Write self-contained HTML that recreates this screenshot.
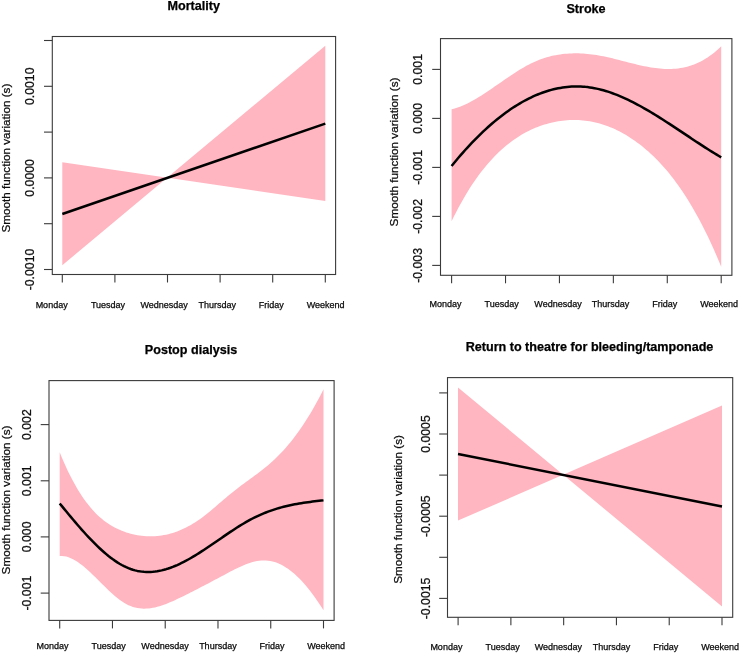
<!DOCTYPE html>
<html><head><meta charset="utf-8"><style>
html,body{margin:0;padding:0;background:#fff;}
svg{display:block;}
text{font-family:"Liberation Sans",sans-serif;fill:#000;stroke:#000;stroke-width:0.25px;}
svg{will-change:transform;}
.t12{font-size:12.3px;fill:#111;}
.ylab{font-size:11.7px;fill:#111;}
.t9{font-size:9px;fill:#111;}
.title{font-size:12.6px;font-weight:bold;}
</style></head><body>
<svg width="740" height="653" viewBox="0 0 740 653">
<rect width="740" height="653" fill="#fff"/>
<polygon points="62.30,162.30 325.30,201.00 325.30,45.70 62.30,265.20" fill="#FFB6C1" stroke="none"/>
<polyline points="62.30,214.00 325.30,123.60" fill="none" stroke="#000" stroke-width="2.5" stroke-linejoin="round" stroke-linecap="butt"/>
<rect x="52.3" y="36.5" width="283.3" height="238.0" fill="none" stroke="#3a3a3a" stroke-width="1.1"/>
<line x1="62.30" y1="274.5" x2="62.30" y2="282.5" stroke="#3a3a3a" stroke-width="1.1"/>
<line x1="114.90" y1="274.5" x2="114.90" y2="282.5" stroke="#3a3a3a" stroke-width="1.1"/>
<line x1="167.50" y1="274.5" x2="167.50" y2="282.5" stroke="#3a3a3a" stroke-width="1.1"/>
<line x1="220.10" y1="274.5" x2="220.10" y2="282.5" stroke="#3a3a3a" stroke-width="1.1"/>
<line x1="272.70" y1="274.5" x2="272.70" y2="282.5" stroke="#3a3a3a" stroke-width="1.1"/>
<line x1="325.30" y1="274.5" x2="325.30" y2="282.5" stroke="#3a3a3a" stroke-width="1.1"/>
<line x1="44.0" y1="40.5" x2="52.3" y2="40.5" stroke="#3a3a3a" stroke-width="1.1"/>
<line x1="44.0" y1="86.3" x2="52.3" y2="86.3" stroke="#3a3a3a" stroke-width="1.1"/>
<line x1="44.0" y1="132.1" x2="52.3" y2="132.1" stroke="#3a3a3a" stroke-width="1.1"/>
<line x1="44.0" y1="177.9" x2="52.3" y2="177.9" stroke="#3a3a3a" stroke-width="1.1"/>
<line x1="44.0" y1="223.7" x2="52.3" y2="223.7" stroke="#3a3a3a" stroke-width="1.1"/>
<line x1="44.0" y1="269.5" x2="52.3" y2="269.5" stroke="#3a3a3a" stroke-width="1.1"/>
<text transform="translate(34.1,86.3) rotate(-90)" text-anchor="middle" class="t12">0.0010</text>
<text transform="translate(34.1,177.9) rotate(-90)" text-anchor="middle" class="t12">0.0000</text>
<text transform="translate(34.1,269.5) rotate(-90)" text-anchor="middle" class="t12">-0.0010</text>
<text transform="translate(10,158.1) rotate(-90)" text-anchor="middle" class="ylab">Smooth function variation (s)</text>
<text x="193.7" y="10" text-anchor="middle" class="title">Mortality</text>
<text x="51.65" y="308.2" text-anchor="middle" class="t9">Monday</text>
<text x="108" y="308.2" text-anchor="middle" class="t9">Tuesday</text>
<text x="164.2" y="308.2" text-anchor="middle" class="t9">Wednesday</text>
<text x="217.2" y="308.2" text-anchor="middle" class="t9">Thursday</text>
<text x="271.2" y="308.2" text-anchor="middle" class="t9">Friday</text>
<text x="325.7" y="308.2" text-anchor="middle" class="t9">Weekend</text>
<polygon points="451.60,109.26 453.87,108.69 456.13,108.02 458.40,107.26 460.66,106.42 462.93,105.49 465.19,104.48 467.46,103.41 469.72,102.26 471.99,101.06 474.26,99.79 476.52,98.48 478.79,97.11 481.05,95.70 483.32,94.26 485.58,92.78 487.85,91.27 490.11,89.74 492.38,88.19 494.65,86.62 496.91,85.05 499.18,83.47 501.44,81.89 503.71,80.31 505.97,78.74 508.24,77.19 510.50,75.66 512.77,74.15 515.04,72.67 517.30,71.23 519.57,69.82 521.83,68.45 524.10,67.14 526.36,65.87 528.63,64.67 530.89,63.52 533.16,62.44 535.43,61.43 537.69,60.49 539.96,59.61 542.22,58.79 544.49,58.03 546.75,57.34 549.02,56.70 551.28,56.12 553.55,55.61 555.82,55.14 558.08,54.73 560.35,54.38 562.61,54.08 564.88,53.83 567.14,53.63 569.41,53.48 571.67,53.38 573.94,53.32 576.21,53.31 578.47,53.34 580.74,53.42 583.00,53.54 585.27,53.70 587.53,53.90 589.80,54.14 592.06,54.42 594.33,54.73 596.59,55.08 598.86,55.47 601.13,55.88 603.39,56.33 605.66,56.80 607.92,57.30 610.19,57.82 612.45,58.36 614.72,58.92 616.98,59.48 619.25,60.06 621.52,60.65 623.78,61.23 626.05,61.82 628.31,62.41 630.58,62.99 632.84,63.56 635.11,64.11 637.37,64.66 639.64,65.18 641.91,65.69 644.17,66.17 646.44,66.62 648.70,67.04 650.97,67.43 653.23,67.79 655.50,68.10 657.76,68.37 660.03,68.60 662.30,68.78 664.56,68.90 666.83,68.97 669.09,68.98 671.36,68.94 673.62,68.83 675.89,68.65 678.15,68.40 680.42,68.08 682.69,67.68 684.95,67.20 687.22,66.64 689.48,66.00 691.75,65.26 694.01,64.44 696.28,63.52 698.54,62.50 700.81,61.38 703.08,60.16 705.34,58.83 707.61,57.39 709.87,55.84 712.14,54.18 714.40,52.39 716.67,50.48 718.93,48.45 721.20,46.29 721.20,266.63 718.93,261.21 716.67,255.92 714.40,250.76 712.14,245.75 709.87,240.86 707.61,236.10 705.34,231.48 703.08,226.98 700.81,222.60 698.54,218.35 696.28,214.22 694.01,210.20 691.75,206.31 689.48,202.52 687.22,198.86 684.95,195.30 682.69,191.85 680.42,188.51 678.15,185.28 675.89,182.15 673.62,179.12 671.36,176.19 669.09,173.36 666.83,170.62 664.56,167.97 662.30,165.42 660.03,162.95 657.76,160.57 655.50,158.27 653.23,156.06 650.97,153.92 648.70,151.86 646.44,149.88 644.17,147.96 641.91,146.12 639.64,144.35 637.37,142.64 635.11,141.00 632.84,139.42 630.58,137.91 628.31,136.47 626.05,135.08 623.78,133.77 621.52,132.51 619.25,131.32 616.98,130.19 614.72,129.12 612.45,128.12 610.19,127.17 607.92,126.29 605.66,125.47 603.39,124.70 601.13,124.00 598.86,123.35 596.59,122.76 594.33,122.23 592.06,121.76 589.80,121.34 587.53,120.99 585.27,120.68 583.00,120.44 580.74,120.24 578.47,120.11 576.21,120.03 573.94,120.00 571.67,120.03 569.41,120.12 567.14,120.25 564.88,120.44 562.61,120.69 560.35,120.99 558.08,121.34 555.82,121.74 553.55,122.20 551.28,122.71 549.02,123.27 546.75,123.89 544.49,124.56 542.22,125.28 539.96,126.07 537.69,126.91 535.43,127.82 533.16,128.78 530.89,129.81 528.63,130.91 526.36,132.07 524.10,133.31 521.83,134.61 519.57,135.98 517.30,137.43 515.04,138.95 512.77,140.54 510.50,142.21 508.24,143.96 505.97,145.80 503.71,147.71 501.44,149.71 499.18,151.81 496.91,153.99 494.65,156.27 492.38,158.65 490.11,161.13 487.85,163.71 485.58,166.39 483.32,169.19 481.05,172.09 478.79,175.11 476.52,178.24 474.26,181.50 471.99,184.87 469.72,188.37 467.46,192.00 465.19,195.76 462.93,199.64 460.66,203.67 458.40,207.83 456.13,212.13 453.87,216.58 451.60,221.17" fill="#FFB6C1" stroke="none"/>
<polyline points="451.60,165.96 453.87,163.19 456.13,160.46 458.40,157.79 460.66,155.15 462.93,152.57 465.19,150.03 467.46,147.54 469.72,145.09 471.99,142.69 474.26,140.34 476.52,138.04 478.79,135.79 481.05,133.58 483.32,131.42 485.58,129.31 487.85,127.25 490.11,125.24 492.38,123.28 494.65,121.36 496.91,119.49 499.18,117.68 501.44,115.91 503.71,114.19 505.97,112.53 508.24,110.91 510.50,109.34 512.77,107.83 515.04,106.36 517.30,104.94 519.57,103.58 521.83,102.26 524.10,101.00 526.36,99.79 528.63,98.63 530.89,97.52 533.16,96.47 535.43,95.46 537.69,94.51 539.96,93.61 542.22,92.76 544.49,91.97 546.75,91.23 549.02,90.54 551.28,89.90 553.55,89.32 555.82,88.79 558.08,88.32 560.35,87.90 562.61,87.53 564.88,87.22 567.14,86.96 569.41,86.76 571.67,86.61 573.94,86.51 576.21,86.47 578.47,86.49 580.74,86.56 583.00,86.69 585.27,86.87 587.53,87.11 589.80,87.40 592.06,87.76 594.33,88.16 596.59,88.62 598.86,89.13 601.13,89.70 603.39,90.31 605.66,90.97 607.92,91.68 610.19,92.43 612.45,93.23 614.72,94.07 616.98,94.95 619.25,95.87 621.52,96.84 623.78,97.83 626.05,98.87 628.31,99.94 630.58,101.05 632.84,102.18 635.11,103.35 637.37,104.55 639.64,105.77 641.91,107.02 644.17,108.30 646.44,109.60 648.70,110.93 650.97,112.27 653.23,113.64 655.50,115.03 657.76,116.43 660.03,117.85 662.30,119.28 664.56,120.73 666.83,122.19 669.09,123.66 671.36,125.14 673.62,126.63 675.89,128.12 678.15,129.63 680.42,131.13 682.69,132.64 684.95,134.15 687.22,135.66 689.48,137.16 691.75,138.67 694.01,140.17 696.28,141.67 698.54,143.16 700.81,144.64 703.08,146.11 705.34,147.58 707.61,149.03 709.87,150.46 712.14,151.89 714.40,153.29 716.67,154.68 718.93,156.05 721.20,157.40" fill="none" stroke="#000" stroke-width="2.5" stroke-linejoin="round" stroke-linecap="butt"/>
<rect x="440.5" y="38.6" width="291.4" height="236.70000000000002" fill="none" stroke="#3a3a3a" stroke-width="1.1"/>
<line x1="451.60" y1="275.3" x2="451.60" y2="283.3" stroke="#3a3a3a" stroke-width="1.1"/>
<line x1="505.52" y1="275.3" x2="505.52" y2="283.3" stroke="#3a3a3a" stroke-width="1.1"/>
<line x1="559.44" y1="275.3" x2="559.44" y2="283.3" stroke="#3a3a3a" stroke-width="1.1"/>
<line x1="613.36" y1="275.3" x2="613.36" y2="283.3" stroke="#3a3a3a" stroke-width="1.1"/>
<line x1="667.28" y1="275.3" x2="667.28" y2="283.3" stroke="#3a3a3a" stroke-width="1.1"/>
<line x1="721.20" y1="275.3" x2="721.20" y2="283.3" stroke="#3a3a3a" stroke-width="1.1"/>
<line x1="432.2" y1="69.4" x2="440.5" y2="69.4" stroke="#3a3a3a" stroke-width="1.1"/>
<line x1="432.2" y1="118.4" x2="440.5" y2="118.4" stroke="#3a3a3a" stroke-width="1.1"/>
<line x1="432.2" y1="167.4" x2="440.5" y2="167.4" stroke="#3a3a3a" stroke-width="1.1"/>
<line x1="432.2" y1="216.4" x2="440.5" y2="216.4" stroke="#3a3a3a" stroke-width="1.1"/>
<line x1="432.2" y1="265.4" x2="440.5" y2="265.4" stroke="#3a3a3a" stroke-width="1.1"/>
<text transform="translate(422,69.4) rotate(-90)" text-anchor="middle" class="t12">0.001</text>
<text transform="translate(422,118.4) rotate(-90)" text-anchor="middle" class="t12">0.000</text>
<text transform="translate(422,167.4) rotate(-90)" text-anchor="middle" class="t12">-0.001</text>
<text transform="translate(422,216.4) rotate(-90)" text-anchor="middle" class="t12">-0.002</text>
<text transform="translate(422,265.4) rotate(-90)" text-anchor="middle" class="t12">-0.003</text>
<text transform="translate(398,152) rotate(-90)" text-anchor="middle" class="ylab">Smooth function variation (s)</text>
<text x="586" y="12.5" text-anchor="middle" class="title">Stroke</text>
<text x="445.6" y="306.9" text-anchor="middle" class="t9">Monday</text>
<text x="501.6" y="306.9" text-anchor="middle" class="t9">Tuesday</text>
<text x="558" y="306.9" text-anchor="middle" class="t9">Wednesday</text>
<text x="610.6" y="306.9" text-anchor="middle" class="t9">Thursday</text>
<text x="664.8" y="306.9" text-anchor="middle" class="t9">Friday</text>
<text x="719.1" y="306.9" text-anchor="middle" class="t9">Weekend</text>
<polygon points="59.70,452.23 61.92,457.63 64.13,462.78 66.35,467.69 68.57,472.38 70.78,476.83 73.00,481.07 75.22,485.09 77.43,488.91 79.65,492.52 81.87,495.94 84.08,499.17 86.30,502.21 88.52,505.08 90.74,507.77 92.95,510.30 95.17,512.67 97.39,514.88 99.60,516.95 101.82,518.87 104.04,520.66 106.25,522.32 108.47,523.85 110.69,525.27 112.90,526.57 115.12,527.77 117.34,528.87 119.55,529.87 121.77,530.79 123.99,531.62 126.20,532.38 128.42,533.06 130.64,533.68 132.85,534.24 135.07,534.73 137.29,535.16 139.51,535.52 141.72,535.82 143.94,536.05 146.16,536.21 148.37,536.31 150.59,536.34 152.81,536.30 155.02,536.20 157.24,536.03 159.46,535.79 161.67,535.48 163.89,535.11 166.11,534.66 168.32,534.15 170.54,533.56 172.76,532.91 174.97,532.19 177.19,531.39 179.41,530.53 181.62,529.59 183.84,528.58 186.06,527.51 188.27,526.36 190.49,525.13 192.71,523.84 194.93,522.47 197.14,521.03 199.36,519.52 201.58,517.93 203.79,516.27 206.01,514.54 208.23,512.75 210.44,510.92 212.66,509.06 214.88,507.16 217.09,505.26 219.31,503.35 221.53,501.44 223.74,499.55 225.96,497.68 228.18,495.82 230.39,493.99 232.61,492.19 234.83,490.42 237.04,488.68 239.26,486.97 241.48,485.30 243.69,483.67 245.91,482.05 248.13,480.44 250.35,478.84 252.56,477.23 254.78,475.61 257.00,473.98 259.21,472.31 261.43,470.61 263.65,468.87 265.86,467.08 268.08,465.23 270.30,463.31 272.51,461.32 274.73,459.25 276.95,457.10 279.16,454.87 281.38,452.56 283.60,450.16 285.81,447.67 288.03,445.09 290.25,442.41 292.46,439.64 294.68,436.77 296.90,433.80 299.12,430.72 301.33,427.53 303.55,424.24 305.77,420.83 307.98,417.31 310.20,413.67 312.42,409.91 314.63,406.03 316.85,402.03 319.07,397.89 321.28,393.63 323.50,389.23 323.50,610.37 321.28,606.87 319.07,603.48 316.85,600.19 314.63,597.03 312.42,593.98 310.20,591.05 307.98,588.24 305.77,585.57 303.55,583.02 301.33,580.60 299.12,578.31 296.90,576.15 294.68,574.12 292.46,572.23 290.25,570.48 288.03,568.86 285.81,567.38 283.60,566.04 281.38,564.84 279.16,563.78 276.95,562.86 274.73,562.09 272.51,561.46 270.30,560.98 268.08,560.65 265.86,560.47 263.65,560.43 261.43,560.52 259.21,560.74 257.00,561.08 254.78,561.54 252.56,562.09 250.35,562.74 248.13,563.48 245.91,564.30 243.69,565.19 241.48,566.15 239.26,567.16 237.04,568.21 234.83,569.31 232.61,570.44 230.39,571.60 228.18,572.77 225.96,573.95 223.74,575.13 221.53,576.31 219.31,577.49 217.09,578.67 214.88,579.85 212.66,581.03 210.44,582.21 208.23,583.38 206.01,584.55 203.79,585.71 201.58,586.87 199.36,588.03 197.14,589.17 194.93,590.31 192.71,591.45 190.49,592.57 188.27,593.69 186.06,594.79 183.84,595.89 181.62,596.97 179.41,598.04 177.19,599.10 174.97,600.14 172.76,601.15 170.54,602.12 168.32,603.05 166.11,603.93 163.89,604.76 161.67,605.53 159.46,606.23 157.24,606.86 155.02,607.40 152.81,607.85 150.59,608.21 148.37,608.47 146.16,608.62 143.94,608.66 141.72,608.58 139.51,608.36 137.29,608.01 135.07,607.52 132.85,606.89 130.64,606.09 128.42,605.14 126.20,604.02 123.99,602.73 121.77,601.28 119.55,599.70 117.34,597.98 115.12,596.16 112.90,594.24 110.69,592.23 108.47,590.16 106.25,588.03 104.04,585.86 101.82,583.66 99.60,581.45 97.39,579.25 95.17,577.06 92.95,574.90 90.74,572.79 88.52,570.73 86.30,568.75 84.08,566.86 81.87,565.07 79.65,563.40 77.43,561.86 75.22,560.46 73.00,559.23 70.78,558.16 68.57,557.29 66.35,556.61 64.13,556.16 61.92,555.93 59.70,555.95" fill="#FFB6C1" stroke="none"/>
<polyline points="59.70,503.44 61.92,506.15 64.13,508.86 66.35,511.55 68.57,514.23 70.78,516.90 73.00,519.54 75.22,522.15 77.43,524.74 79.65,527.29 81.87,529.81 84.08,532.28 86.30,534.72 88.52,537.11 90.74,539.45 92.95,541.73 95.17,543.96 97.39,546.13 99.60,548.23 101.82,550.27 104.04,552.23 106.25,554.12 108.47,555.94 110.69,557.67 112.90,559.32 115.12,560.88 117.34,562.34 119.55,563.71 121.77,564.99 123.99,566.16 126.20,567.22 128.42,568.18 130.64,569.02 132.85,569.75 135.07,570.38 137.29,570.90 139.51,571.31 141.72,571.63 143.94,571.84 146.16,571.97 148.37,571.99 150.59,571.93 152.81,571.78 155.02,571.55 157.24,571.23 159.46,570.83 161.67,570.36 163.89,569.80 166.11,569.18 168.32,568.49 170.54,567.72 172.76,566.89 174.97,566.00 177.19,565.05 179.41,564.04 181.62,562.98 183.84,561.86 186.06,560.70 188.27,559.48 190.49,558.23 192.71,556.93 194.93,555.60 197.14,554.24 199.36,552.84 201.58,551.42 203.79,549.97 206.01,548.51 208.23,547.02 210.44,545.52 212.66,544.01 214.88,542.49 217.09,540.97 219.31,539.44 221.53,537.92 223.74,536.40 225.96,534.89 228.18,533.39 230.39,531.90 232.61,530.43 234.83,528.98 237.04,527.56 239.26,526.16 241.48,524.79 243.69,523.45 245.91,522.15 248.13,520.89 250.35,519.67 252.56,518.50 254.78,517.38 257.00,516.31 259.21,515.28 261.43,514.30 263.65,513.37 265.86,512.48 268.08,511.64 270.30,510.84 272.51,510.07 274.73,509.35 276.95,508.66 279.16,508.01 281.38,507.39 283.60,506.81 285.81,506.26 288.03,505.74 290.25,505.25 292.46,504.78 294.68,504.34 296.90,503.93 299.12,503.54 301.33,503.17 303.55,502.82 305.77,502.49 307.98,502.18 310.20,501.89 312.42,501.61 314.63,501.34 316.85,501.09 319.07,500.84 321.28,500.61 323.50,500.38" fill="none" stroke="#000" stroke-width="2.5" stroke-linejoin="round" stroke-linecap="butt"/>
<rect x="49.0" y="380.6" width="285.1" height="239.79999999999995" fill="none" stroke="#3a3a3a" stroke-width="1.1"/>
<line x1="59.70" y1="620.4" x2="59.70" y2="628.4" stroke="#3a3a3a" stroke-width="1.1"/>
<line x1="112.46" y1="620.4" x2="112.46" y2="628.4" stroke="#3a3a3a" stroke-width="1.1"/>
<line x1="165.22" y1="620.4" x2="165.22" y2="628.4" stroke="#3a3a3a" stroke-width="1.1"/>
<line x1="217.98" y1="620.4" x2="217.98" y2="628.4" stroke="#3a3a3a" stroke-width="1.1"/>
<line x1="270.74" y1="620.4" x2="270.74" y2="628.4" stroke="#3a3a3a" stroke-width="1.1"/>
<line x1="323.50" y1="620.4" x2="323.50" y2="628.4" stroke="#3a3a3a" stroke-width="1.1"/>
<line x1="40.7" y1="424.6" x2="49.0" y2="424.6" stroke="#3a3a3a" stroke-width="1.1"/>
<line x1="40.7" y1="480.8" x2="49.0" y2="480.8" stroke="#3a3a3a" stroke-width="1.1"/>
<line x1="40.7" y1="536.9" x2="49.0" y2="536.9" stroke="#3a3a3a" stroke-width="1.1"/>
<line x1="40.7" y1="593.1" x2="49.0" y2="593.1" stroke="#3a3a3a" stroke-width="1.1"/>
<text transform="translate(31,424.6) rotate(-90)" text-anchor="middle" class="t12">0.002</text>
<text transform="translate(31,480.8) rotate(-90)" text-anchor="middle" class="t12">0.001</text>
<text transform="translate(31,536.9) rotate(-90)" text-anchor="middle" class="t12">0.000</text>
<text transform="translate(31,593.1) rotate(-90)" text-anchor="middle" class="t12">-0.001</text>
<text transform="translate(9.6,500) rotate(-90)" text-anchor="middle" class="ylab">Smooth function variation (s)</text>
<text x="191" y="353.8" text-anchor="middle" class="title">Postop dialysis</text>
<text x="52.5" y="649" text-anchor="middle" class="t9">Monday</text>
<text x="108.7" y="649" text-anchor="middle" class="t9">Tuesday</text>
<text x="165" y="649" text-anchor="middle" class="t9">Wednesday</text>
<text x="217.9" y="649" text-anchor="middle" class="t9">Thursday</text>
<text x="271.9" y="649" text-anchor="middle" class="t9">Friday</text>
<text x="326.2" y="649" text-anchor="middle" class="t9">Weekend</text>
<polygon points="458.00,387.40 722.00,606.50 722.00,405.50 458.00,520.60" fill="#FFB6C1" stroke="none"/>
<polyline points="458.00,454.00 722.00,506.40" fill="none" stroke="#000" stroke-width="2.5" stroke-linejoin="round" stroke-linecap="butt"/>
<rect x="447.5" y="377.6" width="285.20000000000005" height="239.69999999999993" fill="none" stroke="#3a3a3a" stroke-width="1.1"/>
<line x1="458.10" y1="617.3" x2="458.10" y2="625.3" stroke="#3a3a3a" stroke-width="1.1"/>
<line x1="510.88" y1="617.3" x2="510.88" y2="625.3" stroke="#3a3a3a" stroke-width="1.1"/>
<line x1="563.66" y1="617.3" x2="563.66" y2="625.3" stroke="#3a3a3a" stroke-width="1.1"/>
<line x1="616.44" y1="617.3" x2="616.44" y2="625.3" stroke="#3a3a3a" stroke-width="1.1"/>
<line x1="669.22" y1="617.3" x2="669.22" y2="625.3" stroke="#3a3a3a" stroke-width="1.1"/>
<line x1="722.00" y1="617.3" x2="722.00" y2="625.3" stroke="#3a3a3a" stroke-width="1.1"/>
<line x1="439.2" y1="392.9" x2="447.5" y2="392.9" stroke="#3a3a3a" stroke-width="1.1"/>
<line x1="439.2" y1="434" x2="447.5" y2="434" stroke="#3a3a3a" stroke-width="1.1"/>
<line x1="439.2" y1="475.1" x2="447.5" y2="475.1" stroke="#3a3a3a" stroke-width="1.1"/>
<line x1="439.2" y1="516.2" x2="447.5" y2="516.2" stroke="#3a3a3a" stroke-width="1.1"/>
<line x1="439.2" y1="557.3" x2="447.5" y2="557.3" stroke="#3a3a3a" stroke-width="1.1"/>
<line x1="439.2" y1="598.4" x2="447.5" y2="598.4" stroke="#3a3a3a" stroke-width="1.1"/>
<text transform="translate(429.8,434) rotate(-90)" text-anchor="middle" class="t12">0.0005</text>
<text transform="translate(429.8,516.2) rotate(-90)" text-anchor="middle" class="t12">-0.0005</text>
<text transform="translate(429.8,598.4) rotate(-90)" text-anchor="middle" class="t12">-0.0015</text>
<text transform="translate(402.3,509.4) rotate(-90)" text-anchor="middle" class="ylab">Smooth function variation (s)</text>
<text x="589.5" y="351.2" text-anchor="middle" class="title">Return to theatre for bleeding/tamponade</text>
<text x="446.4" y="650.2" text-anchor="middle" class="t9">Monday</text>
<text x="502.6" y="650.2" text-anchor="middle" class="t9">Tuesday</text>
<text x="558.4" y="650.2" text-anchor="middle" class="t9">Wednesday</text>
<text x="611.6" y="650.2" text-anchor="middle" class="t9">Thursday</text>
<text x="665.7" y="650.2" text-anchor="middle" class="t9">Friday</text>
<text x="720.1" y="650.2" text-anchor="middle" class="t9">Weekend</text>
</svg>
</body></html>
